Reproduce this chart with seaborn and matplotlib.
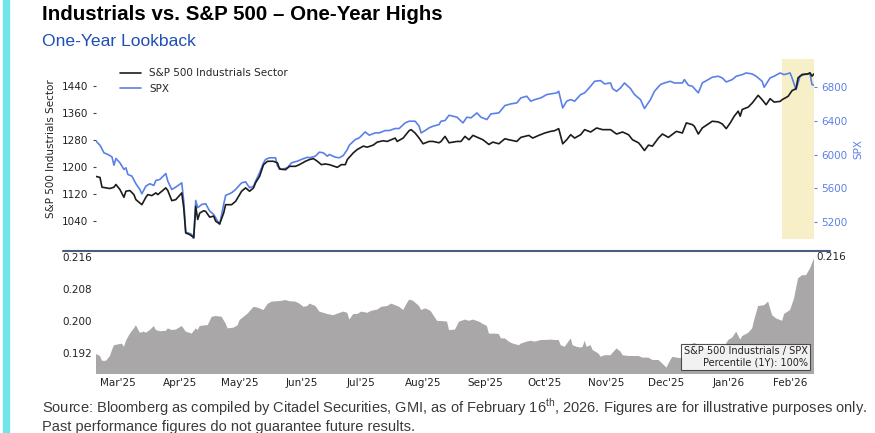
"""Industrials vs. S&P 500 - One-Year Highs: linhas (setor x SPX) e area do ratio."""

import matplotlib
matplotlib.use("Agg")
import matplotlib.dates as mdates
import matplotlib.pyplot as plt
import pandas as pd
import seaborn as sns
from matplotlib import font_manager
from matplotlib.lines import Line2D
from matplotlib.patches import Rectangle

TITLE = "Industrials vs. S&P 500 \u2013 One-Year Highs"
SUBTITLE = "One-Year Lookback"
FOOTER_1 = ("Source: Bloomberg as compiled by Citadel Securities, GMI, as of February 16$^{\\mathrm{th}}$, 2026. "
            "Figures are for illustrative purposes only.")
FOOTER_2 = "Past performance figures do not guarantee future results."

# S&P 500 Industrials Sector (eixo esquerdo)
IND_DATES = [
    "2025-02-18", "2025-02-20", "2025-02-21", "2025-02-23", "2025-02-25", "2025-02-27", "2025-02-28",
    "2025-03-02", "2025-03-04", "2025-03-05", "2025-03-07", "2025-03-09", "2025-03-10", "2025-03-12",
    "2025-03-13", "2025-03-15", "2025-03-16", "2025-03-18", "2025-03-20", "2025-03-21", "2025-03-23",
    "2025-03-25", "2025-03-26", "2025-03-28", "2025-03-30", "2025-04-02", "2025-04-03", "2025-04-04",
    "2025-04-06", "2025-04-08", "2025-04-09", "2025-04-10", "2025-04-11", "2025-04-13", "2025-04-14",
    "2025-04-16", "2025-04-18", "2025-04-19", "2025-04-21", "2025-04-23", "2025-04-24", "2025-04-27",
    "2025-04-29", "2025-05-02", "2025-05-04", "2025-05-06", "2025-05-08", "2025-05-09", "2025-05-11",
    "2025-05-13", "2025-05-15", "2025-05-18", "2025-05-20", "2025-05-21", "2025-05-24", "2025-05-26",
    "2025-05-29", "2025-05-31", "2025-06-03", "2025-06-05", "2025-06-07", "2025-06-09", "2025-06-11",
    "2025-06-13", "2025-06-15", "2025-06-19", "2025-06-21", "2025-06-23", "2025-06-24", "2025-06-27",
    "2025-06-29", "2025-07-02", "2025-07-04", "2025-07-07", "2025-07-09", "2025-07-12", "2025-07-14",
    "2025-07-16", "2025-07-18", "2025-07-19", "2025-07-22", "2025-07-25", "2025-07-26", "2025-07-28",
    "2025-07-30", "2025-08-01", "2025-08-04", "2025-08-06", "2025-08-09", "2025-08-10", "2025-08-12",
    "2025-08-14", "2025-08-18", "2025-08-20", "2025-08-22", "2025-08-24", "2025-08-26", "2025-08-29",
    "2025-08-31", "2025-09-03", "2025-09-05", "2025-09-08", "2025-09-11", "2025-09-13", "2025-09-17",
    "2025-09-19", "2025-09-23", "2025-09-25", "2025-09-28", "2025-10-01", "2025-10-04", "2025-10-06",
    "2025-10-08", "2025-10-10", "2025-10-12", "2025-10-14", "2025-10-16", "2025-10-19", "2025-10-21",
    "2025-10-24", "2025-10-27", "2025-10-30", "2025-11-03", "2025-11-06", "2025-11-09", "2025-11-12",
    "2025-11-14", "2025-11-17", "2025-11-18", "2025-11-20", "2025-11-22", "2025-11-24", "2025-11-27",
    "2025-11-29", "2025-12-02", "2025-12-06", "2025-12-09", "2025-12-11", "2025-12-14", "2025-12-15",
    "2025-12-17", "2025-12-19", "2025-12-22", "2025-12-24", "2025-12-27", "2025-12-29", "2025-12-31",
    "2026-01-02", "2026-01-04", "2026-01-06", "2026-01-07", "2026-01-08", "2026-01-11", "2026-01-13",
    "2026-01-16", "2026-01-18", "2026-01-20", "2026-01-22", "2026-01-24", "2026-01-27", "2026-01-28",
    "2026-01-31", "2026-02-02", "2026-02-04", "2026-02-05", "2026-02-07", "2026-02-10", "2026-02-11",
    "2026-02-12", "2026-02-13",
]
IND_VALUES = [
    1172, 1169, 1140, 1138, 1136, 1140, 1148,
    1133, 1110, 1128, 1130, 1118, 1103, 1093,
    1088, 1110, 1118, 1115, 1123, 1118, 1128,
    1138, 1130, 1100, 1103, 1123, 1078, 1004,
    999, 991, 1083, 1044, 1063, 1070, 1068,
    1051, 1054, 1039, 1031, 1063, 1088, 1088,
    1098, 1128, 1138, 1128, 1138, 1153, 1172,
    1207, 1217, 1217, 1212, 1194, 1192, 1202,
    1202, 1207, 1217, 1222, 1225, 1217, 1207,
    1209, 1207, 1199, 1207, 1207, 1222, 1242,
    1252, 1262, 1259, 1265, 1274, 1278, 1276,
    1281, 1286, 1276, 1286, 1308, 1311, 1301,
    1286, 1269, 1276, 1276, 1272, 1276, 1291,
    1272, 1276, 1276, 1291, 1281, 1294, 1286,
    1281, 1267, 1274, 1269, 1284, 1281, 1276,
    1288, 1294, 1286, 1294, 1301, 1306, 1308,
    1314, 1269, 1281, 1296, 1286, 1296, 1311,
    1304, 1316, 1311, 1311, 1298, 1304, 1296,
    1281, 1272, 1265, 1249, 1265, 1262, 1286,
    1298, 1288, 1306, 1301, 1331, 1326, 1321,
    1298, 1316, 1328, 1336, 1334, 1328, 1314,
    1331, 1351, 1366, 1351, 1371, 1378, 1390,
    1413, 1400, 1385, 1403, 1393, 1395, 1400,
    1410, 1427, 1433, 1465, 1475, 1477, 1480,
    1470, 1477,
]

# SPX (eixo direito)
SPX_DATES = [
    "2025-02-18", "2025-02-20", "2025-02-22", "2025-02-24", "2025-02-26", "2025-02-27", "2025-02-28",
    "2025-03-02", "2025-03-04", "2025-03-05", "2025-03-06", "2025-03-08", "2025-03-10", "2025-03-12",
    "2025-03-13", "2025-03-15", "2025-03-17", "2025-03-19", "2025-03-20", "2025-03-22", "2025-03-25",
    "2025-03-26", "2025-03-28", "2025-03-30", "2025-04-02", "2025-04-03", "2025-04-04", "2025-04-05",
    "2025-04-07", "2025-04-08", "2025-04-09", "2025-04-10", "2025-04-12", "2025-04-14", "2025-04-16",
    "2025-04-18", "2025-04-19", "2025-04-21", "2025-04-23", "2025-04-24", "2025-04-27", "2025-04-29",
    "2025-05-02", "2025-05-04", "2025-05-06", "2025-05-08", "2025-05-09", "2025-05-11", "2025-05-13",
    "2025-05-14", "2025-05-16", "2025-05-19", "2025-05-20", "2025-05-22", "2025-05-25", "2025-05-27",
    "2025-05-30", "2025-06-01", "2025-06-04", "2025-06-05", "2025-06-08", "2025-06-10", "2025-06-12",
    "2025-06-14", "2025-06-15", "2025-06-18", "2025-06-20", "2025-06-22", "2025-06-24", "2025-06-25",
    "2025-06-28", "2025-06-30", "2025-07-03", "2025-07-05", "2025-07-08", "2025-07-10", "2025-07-13",
    "2025-07-15", "2025-07-18", "2025-07-20", "2025-07-23", "2025-07-25", "2025-07-28", "2025-07-30",
    "2025-07-31", "2025-08-02", "2025-08-04", "2025-08-06", "2025-08-09", "2025-08-10", "2025-08-12",
    "2025-08-14", "2025-08-18", "2025-08-21", "2025-08-23", "2025-08-25", "2025-08-28", "2025-08-30",
    "2025-09-02", "2025-09-04", "2025-09-08", "2025-09-11", "2025-09-14", "2025-09-17", "2025-09-19",
    "2025-09-22", "2025-09-24", "2025-09-26", "2025-09-29", "2025-10-02", "2025-10-04", "2025-10-07",
    "2025-10-08", "2025-10-10", "2025-10-12", "2025-10-14", "2025-10-16", "2025-10-19", "2025-10-21",
    "2025-10-24", "2025-10-26", "2025-10-29", "2025-10-31", "2025-11-03", "2025-11-04", "2025-11-06",
    "2025-11-08", "2025-11-10", "2025-11-13", "2025-11-15", "2025-11-18", "2025-11-20", "2025-11-23",
    "2025-11-25", "2025-11-28", "2025-11-30", "2025-12-03", "2025-12-05", "2025-12-09", "2025-12-10",
    "2025-12-12", "2025-12-14", "2025-12-17", "2025-12-19", "2025-12-22", "2025-12-24", "2025-12-27",
    "2025-12-29", "2025-12-31", "2026-01-03", "2026-01-05", "2026-01-08", "2026-01-10", "2026-01-13",
    "2026-01-15", "2026-01-18", "2026-01-19", "2026-01-22", "2026-01-24", "2026-01-27", "2026-01-29",
    "2026-02-01", "2026-02-02", "2026-02-04", "2026-02-06", "2026-02-08", "2026-02-11", "2026-02-12",
    "2026-02-13",
]
SPX_VALUES = [
    6158, 6111, 6020, 6000, 5972, 5873, 5953,
    5901, 5822, 5842, 5762, 5743, 5652, 5584,
    5533, 5624, 5652, 5632, 5691, 5703, 5774,
    5683, 5584, 5612, 5663, 5446, 5070, 5070,
    5050, 4990, 5454, 5367, 5406, 5414, 5327,
    5287, 5248, 5168, 5406, 5513, 5545, 5584,
    5663, 5675, 5604, 5624, 5683, 5782, 5901,
    5941, 5961, 5961, 5861, 5822, 5842, 5901,
    5921, 5941, 5968, 5961, 5980, 6028, 6020,
    5980, 6000, 5968, 5961, 5988, 6060, 6111,
    6178, 6198, 6269, 6230, 6257, 6257, 6285,
    6285, 6309, 6309, 6376, 6396, 6396, 6337,
    6257, 6285, 6317, 6337, 6356, 6396, 6404,
    6467, 6444, 6376, 6444, 6436, 6495, 6444,
    6416, 6483, 6495, 6582, 6602, 6614, 6673,
    6693, 6634, 6653, 6673, 6713, 6721, 6733,
    6752, 6554, 6634, 6653, 6634, 6713, 6733,
    6812, 6871, 6879, 6840, 6851, 6784, 6752,
    6792, 6851, 6784, 6713, 6653, 6547, 6653,
    6752, 6832, 6851, 6871, 6851, 6851, 6891,
    6824, 6812, 6733, 6851, 6891, 6919, 6931,
    6911, 6863, 6891, 6931, 6950, 6970, 6958,
    6931, 6871, 6800, 6911, 6931, 6970, 6950,
    6970, 6911, 6772, 6931, 6950, 6958, 6832,
    6824,
]

# Ratio S&P 500 Industrials / SPX (painel inferior)
RATIO_DATES = [
    "2025-02-18", "2025-02-20", "2025-02-21", "2025-02-23", "2025-02-25", "2025-02-26", "2025-02-27",
    "2025-03-01", "2025-03-03", "2025-03-04", "2025-03-05", "2025-03-07", "2025-03-09", "2025-03-10",
    "2025-03-12", "2025-03-14", "2025-03-15", "2025-03-17", "2025-03-19", "2025-03-20", "2025-03-22",
    "2025-03-25", "2025-03-26", "2025-03-28", "2025-03-30", "2025-04-02", "2025-04-04", "2025-04-07",
    "2025-04-09", "2025-04-10", "2025-04-11", "2025-04-14", "2025-04-15", "2025-04-17", "2025-04-19",
    "2025-04-22", "2025-04-24", "2025-04-25", "2025-04-28", "2025-04-30", "2025-05-01", "2025-05-03",
    "2025-05-05", "2025-05-08", "2025-05-10", "2025-05-13", "2025-05-15", "2025-05-17", "2025-05-20",
    "2025-05-22", "2025-05-24", "2025-05-26", "2025-05-29", "2025-05-31", "2025-06-02", "2025-06-04",
    "2025-06-05", "2025-06-08", "2025-06-10", "2025-06-12", "2025-06-14", "2025-06-17", "2025-06-19",
    "2025-06-22", "2025-06-24", "2025-06-25", "2025-06-27", "2025-06-29", "2025-07-01", "2025-07-04",
    "2025-07-06", "2025-07-09", "2025-07-11", "2025-07-14", "2025-07-16", "2025-07-18", "2025-07-20",
    "2025-07-22", "2025-07-24", "2025-07-25", "2025-07-27", "2025-07-30", "2025-07-31", "2025-08-02",
    "2025-08-04", "2025-08-05", "2025-08-08", "2025-08-11", "2025-08-13", "2025-08-14", "2025-08-17",
    "2025-08-19", "2025-08-22", "2025-08-24", "2025-08-26", "2025-08-29", "2025-08-31", "2025-09-02",
    "2025-09-03", "2025-09-06", "2025-09-08", "2025-09-09", "2025-09-11", "2025-09-13", "2025-09-15",
    "2025-09-18", "2025-09-19", "2025-09-22", "2025-09-24", "2025-09-26", "2025-09-29", "2025-10-01",
    "2025-10-04", "2025-10-06", "2025-10-08", "2025-10-09", "2025-10-11", "2025-10-14", "2025-10-15",
    "2025-10-17", "2025-10-19", "2025-10-20", "2025-10-21", "2025-10-22", "2025-10-24", "2025-10-25",
    "2025-10-28", "2025-10-29", "2025-10-31", "2025-11-03", "2025-11-04", "2025-11-06", "2025-11-08",
    "2025-11-09", "2025-11-12", "2025-11-14", "2025-11-17", "2025-11-19", "2025-11-22", "2025-11-24",
    "2025-11-27", "2025-11-29", "2025-12-01", "2025-12-03", "2025-12-04", "2025-12-06", "2025-12-09",
    "2025-12-10", "2025-12-13", "2025-12-15", "2025-12-17", "2025-12-19", "2025-12-22", "2025-12-24",
    "2025-12-27", "2025-12-29", "2026-01-01", "2026-01-03", "2026-01-05", "2026-01-07", "2026-01-08",
    "2026-01-11", "2026-01-13", "2026-01-14", "2026-01-16", "2026-01-19", "2026-01-21", "2026-01-23",
    "2026-01-25", "2026-01-28", "2026-01-29", "2026-02-01", "2026-02-03", "2026-02-05", "2026-02-07",
    "2026-02-09", "2026-02-11", "2026-02-13",
]
RATIO_VALUES = [
    0.1917, 0.1912, 0.1900, 0.1900, 0.1912, 0.1927, 0.1939,
    0.1941, 0.1943, 0.1935, 0.1950, 0.1968, 0.1981, 0.1989,
    0.1970, 0.1973, 0.1970, 0.1977, 0.1987, 0.1977, 0.1974,
    0.1975, 0.1981, 0.1977, 0.1978, 0.1987, 0.1973, 0.1968,
    0.1981, 0.1977, 0.1987, 0.1989, 0.1989, 0.2010, 0.2012,
    0.2010, 0.1993, 0.1981, 0.1983, 0.1989, 0.2002, 0.2010,
    0.2018, 0.2035, 0.2033, 0.2027, 0.2042, 0.2048, 0.2049,
    0.2050, 0.2052, 0.2049, 0.2048, 0.2043, 0.2035, 0.2037,
    0.2043, 0.2037, 0.2023, 0.2020, 0.2017, 0.2014, 0.2018,
    0.2023, 0.2020, 0.2003, 0.2017, 0.2017, 0.2023, 0.2020,
    0.2025, 0.2028, 0.2035, 0.2037, 0.2043, 0.2039, 0.2035,
    0.2027, 0.2045, 0.2053, 0.2050, 0.2037, 0.2027, 0.2031,
    0.2027, 0.2023, 0.2000, 0.1999, 0.1998, 0.1977, 0.1978,
    0.1998, 0.2003, 0.2000, 0.2003, 0.1998, 0.1992, 0.1987,
    0.1968, 0.1968, 0.1967, 0.1956, 0.1956, 0.1948, 0.1943,
    0.1939, 0.1943, 0.1948, 0.1950, 0.1948, 0.1952, 0.1952,
    0.1953, 0.1952, 0.1952, 0.1939, 0.1935, 0.1956, 0.1939,
    0.1935, 0.1933, 0.1935, 0.1950, 0.1935, 0.1939, 0.1927,
    0.1918, 0.1910, 0.1914, 0.1914, 0.1920, 0.1931, 0.1923,
    0.1914, 0.1912, 0.1912, 0.1912, 0.1908, 0.1908, 0.1902,
    0.1902, 0.1893, 0.1883, 0.1902, 0.1910, 0.1908, 0.1906,
    0.1923, 0.1939, 0.1945, 0.1939, 0.1935, 0.1931, 0.1931,
    0.1927, 0.1927, 0.1952, 0.1958, 0.1973, 0.1953, 0.1962,
    0.1970, 0.1981, 0.2002, 0.2037, 0.2039, 0.2048, 0.2014,
    0.2006, 0.2000, 0.2017, 0.2027, 0.2056, 0.2106, 0.2114,
    0.2114, 0.2131, 0.2156,
]

IND_TICKS = [1040, 1120, 1200, 1280, 1360, 1440]
SPX_TICKS = [5200, 5600, 6000, 6400, 6800]
RATIO_TICKS = [0.192, 0.200, 0.208, 0.216]
HIGHLIGHT = ("2026-01-28", "2026-02-13")
PERCENTILE_1Y = 100

BLACK = "#1c1c1c"
BLUE = "#5b80e8"
AREA = "#a9a7a8"
TEXT = "#222222"

W, H = 875, 433


def fx(px):
    return px / W


def fy(px):
    return 1 - px / H


sns.set_theme(style="white")
plt.rcParams["font.family"] = ["DejaVu Sans"]
names = {f.name for f in font_manager.fontManager.ttflist}
FOOT_FONT = "Liberation Sans Narrow" if "Liberation Sans Narrow" in names else "Liberation Sans"
plt.rcParams["mathtext.fontset"] = "custom"
plt.rcParams["mathtext.rm"] = FOOT_FONT

ind = pd.DataFrame({"date": pd.to_datetime(IND_DATES), "value": IND_VALUES})
spx = pd.DataFrame({"date": pd.to_datetime(SPX_DATES), "value": SPX_VALUES})
ratio = pd.DataFrame({"date": pd.to_datetime(RATIO_DATES), "value": RATIO_VALUES})
x0, x1 = ratio["date"].min(), ratio["date"].max()

fig = plt.figure(figsize=(W / 100, H / 100), dpi=100)
fig.patch.set_facecolor("white")
fig.patches.append(Rectangle((fx(3), 0), fx(6), 1, transform=fig.transFigure,
                             color="#70e6e8", zorder=0))

ax = fig.add_axes([fx(96), fy(239), fx(814) - fx(96), fy(59) - fy(239)])
ax2 = ax.twinx()
ax.set_zorder(ax2.get_zorder() + 1)
ax.patch.set_visible(False)

ax2.axvspan(pd.Timestamp(HIGHLIGHT[0]), pd.Timestamp(HIGHLIGHT[1]), color="#f7efc8", lw=0, zorder=0)
sns.lineplot(data=spx, x="date", y="value", ax=ax2, color=BLUE, lw=1.2, legend=False)
sns.lineplot(data=ind, x="date", y="value", ax=ax, color=BLACK, lw=1.2, legend=False)

ax.set_xlim(x0, x1)
ax.set_ylim(986, 1521)
ax2.set_ylim(4995, 7136)
ax.set_yticks(IND_TICKS)
ax2.set_yticks(SPX_TICKS)
ax.set_xticks([])
ax.set_xlabel("")
ax2.set_xlabel("")
ax.set_ylabel("S&P 500 Industrials Sector", fontsize=7.5, color=TEXT, labelpad=4)
ax2.set_ylabel("SPX", fontsize=7.5, color=BLUE, labelpad=4)
ax.tick_params(axis="y", left=True, length=2.5, width=0.8, color="#444444", pad=3,
               labelsize=7.5, labelcolor=TEXT)
ax2.tick_params(axis="y", right=True, length=2.5, width=0.8, color=BLUE, pad=3,
                labelsize=7.5, labelcolor=BLUE)
for a in (ax, ax2):
    for s in a.spines.values():
        s.set_visible(False)

handles = [Line2D([], [], color=BLACK, lw=1.2), Line2D([], [], color=BLUE, lw=1.2)]
ax.legend(handles, ["S&P 500 Industrials Sector", "SPX"], loc="upper left",
          bbox_to_anchor=(0.02, 1.0), frameon=False, fontsize=7.5)

# painel inferior: area do ratio
axb = fig.add_axes([fx(96), fy(374), fx(814) - fx(96), fy(252) - fy(374)])
axb.fill_between(ratio["date"], 0, ratio["value"], color=AREA, lw=0)
axb.set_xlim(x0, x1)
axb.set_ylim(0.1867, 0.2172)
axb.set_yticks(RATIO_TICKS)
axb.set_yticklabels([f"{t:.3f}" for t in RATIO_TICKS])
axb.xaxis.set_major_locator(mdates.MonthLocator())
axb.xaxis.set_major_formatter(mdates.DateFormatter("%b'%y"))
axb.tick_params(axis="both", length=0, pad=3, labelsize=7.5, labelcolor=TEXT)
for s in axb.spines.values():
    s.set_visible(False)
axb.annotate(f"{RATIO_VALUES[-1]:.3f}", xy=(x1, RATIO_VALUES[-1]), xytext=(2, 1),
             textcoords="offset points", ha="left", va="center", fontsize=7.5,
             color=TEXT, annotation_clip=False)
axb.text(0.991, 0.052, f"S&P 500 Industrials / SPX\nPercentile (1Y): {PERCENTILE_1Y}%",
         transform=axb.transAxes, ha="right", va="bottom", fontsize=7, color=TEXT,
         linespacing=1.15, zorder=5,
         bbox=dict(boxstyle="square,pad=0.25", facecolor="white", alpha=0.85,
                   edgecolor="#333333", lw=0.8))

fig.add_artist(Line2D([fx(63), fx(830)], [fy(250.5), fy(250.5)], transform=fig.transFigure,
                      color="#4b5b82", lw=1.5))

fig.text(fx(42), fy(20), TITLE, fontsize=14.8, fontweight="bold", family="Liberation Sans",
         color="black", va="baseline")
fig.text(fx(42), fy(45.7), SUBTITLE, fontsize=12.6, family="Liberation Sans",
         color="#1f4eb4", va="baseline")
foot1 = fig.text(fx(42), fy(413), FOOTER_1, fontsize=10, family=FOOT_FONT,
                 color="#3a3a3a", va="baseline")
foot2 = fig.text(fx(42), fy(431.5), FOOTER_2, fontsize=10, family=FOOT_FONT,
                 color="#3a3a3a", va="baseline")

# ajusta o tamanho do rodape para ocupar a mesma largura da referencia
fig.canvas.draw()
scale = 824 / foot1.get_window_extent().width
foot1.set_fontsize(10 * scale)
foot2.set_fontsize(10 * scale)

fig.savefig("out.png", dpi=100)
plt.close(fig)
